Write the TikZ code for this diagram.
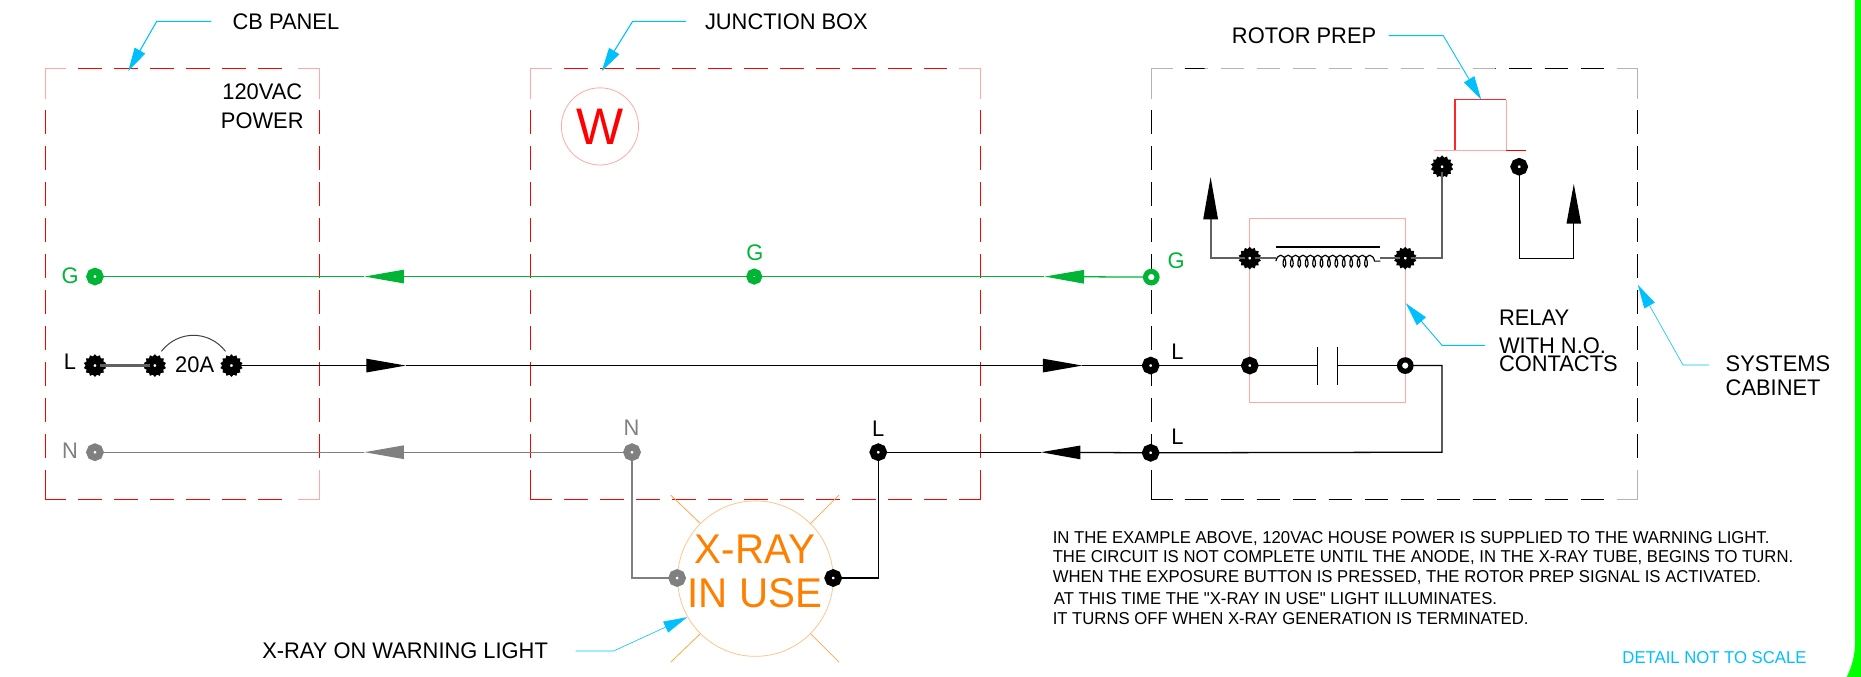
\documentclass[tikz,border=0pt]{standalone}
\usepackage{fontspec}
\setmainfont[FakeStretch=0.97]{Liberation Sans}
\newfontfamily\plainnote[FakeStretch=0.97]{Liberation Sans}
\usetikzlibrary{arrows.meta,shapes.geometric,decorations.pathmorphing}
\definecolor{cablue}{HTML}{00BFFF}
\definecolor{wgreen}{HTML}{00B535}
\definecolor{wgray}{HTML}{808080}
\definecolor{pinkline}{HTML}{FFA8A8}
\definecolor{softgray}{HTML}{B4B4B4}
\definecolor{lamporange}{HTML}{FF8000}
\definecolor{lamplight}{HTML}{FFC48C}
\definecolor{barGreen}{HTML}{00FF00}
\newcommand{\sidedash}[3]{\draw[line width=.55pt,draw=#1,dash pattern=on 12.1pt off 6.1pt] #2 -- #3;}
\newcommand{\panelbox}[8]{%
  \sidedash{#5}{(#1+28,#2)}{(#3-28,#2)}
  \sidedash{#5}{(#1+28,#4)}{(#3-28,#4)}
  \sidedash{#5}{(#1,#2+35)}{(#1,#4-35)}
  \sidedash{#5}{(#3,#2+35)}{(#3,#4-35)}
  \draw[line width=.55pt,draw=#6] (#1,#2+25) -- (#1,#2) -- (#1+18,#2);
  \draw[line width=.55pt,draw=#6] (#3,#2+25) -- (#3,#2) -- (#3-18,#2);
  \draw[line width=.55pt,draw=#7] (#1,#4-25) -- (#1,#4) -- (#1+18,#4);
  \draw[line width=.55pt,draw=#8] (#3,#4-25) -- (#3,#4) -- (#3-18,#4);
}
\newcommand{\spiky}[3]{%
  \node[starbase=#3] (#1s) at (#2) {};
  \node[term=#3] (#1) at (#2) {};
}
\tikzset{
  x=0.6pt,y=-0.6pt,
  every node/.style={inner sep=0pt,outer sep=0pt},
  txt/.style={font=\fontsize{11.4pt}{13pt}\selectfont,text depth=0pt,text=black},
  ltxt/.style={txt,anchor=west},
  note/.style={font=\fontsize{8.7pt}{10pt}\selectfont,text depth=0pt,anchor=west,text=black},
  term/.style={circle,draw=#1,fill=white,line width=3.5pt,minimum size=5.3pt},
  ring/.style={circle,draw=#1,fill=white,line width=2.6pt,minimum size=5.8pt},
  starbase/.style={star,star points=14,star point ratio=1.22,fill=#1,draw=none,minimum size=11.5pt},
  wire/.style={line width=.65pt,draw=#1},
  wire/.default=black,
  thickwire/.style={line width=1.1pt,draw=black!62},
  flow/.style={wire=#1,-{Triangle[length=20pt,width=6.8pt,fill=#1]}},
  leader/.style={line width=.55pt,draw=cablue},
  leadtip/.style={leader,-{Triangle[length=12pt,width=6pt,fill=cablue]}},
  thinlead/.style={leader,line width=.3pt},
  thintip/.style={thinlead,-{Triangle[length=12pt,width=6pt,fill=cablue]}},
  ray/.style={line width=.4pt,draw=lamporange!70},
}
\begin{document}
\begin{tikzpicture}
\useasboundingbox (0,0) rectangle (1568,570.3);
% green edge
\fill[barGreen] (1568,0) -- (1563,0) -- (1563,540) .. controls (1563,553) and (1560,562) .. (1556,570.3) -- (1568,570.3) -- cycle;
% panels
\panelbox{38}{58}{269}{421}{red}{pinkline}{red}{pinkline}
\panelbox{447}{58}{826}{421}{red}{pinkline}{red}{red}
\panelbox{970}{58}{1380}{421}{black}{softgray}{black}{softgray}
\begin{scope}
  \clip (1015,50) rectangle (1260,66);
  \fill[white] (1015,50) rectangle (1260,66);
  \sidedash{softgray}{(998,58)}{(1352,58)}
\end{scope}
% relay enclosure and warning light
\node[draw=pinkline,line width=.5pt,minimum width=78.6pt,minimum height=93pt] (relay) at (1118.5,261.5) {};
\node[circle,draw=lamplight,line width=.4pt,minimum size=78.6pt] (lamp) at (636.5,487.5) {};
\node[circle,draw=pinkline,line width=.4pt,minimum size=39pt,font=\fontsize{26pt}{28pt}\selectfont,text=red] (wbox) at (505.5,106.5) {W};
% rays
\coordinate (rayA1) at (590,441); \coordinate (rayA2) at (565,417);
\coordinate (rayB1) at (683,441); \coordinate (rayB2) at (707,417);
\coordinate (rayC1) at (590,534); \coordinate (rayC2) at (565,558);
\coordinate (rayD1) at (683,534); \coordinate (rayD2) at (707,558);
\draw[ray] (rayA1) -- (rayA2);
\draw[ray] (rayB1) -- (rayB2);
\draw[ray] (rayC1) -- (rayC2);
\draw[ray] (rayD1) -- (rayD2);
% terminals
\node[term=wgreen] (g1) at (80,233) {};
\node[term=wgreen,minimum size=4.5pt] (g2) at (635.5,233) {};
\node[ring=wgreen] (g3) at (970,233.5) {};
\spiky{l1}{80,308}{black}
\spiky{l2}{130.5,308}{black}
\spiky{l3}{195,308}{black}
\node[term=black] (l4) at (969.5,308) {};
\node[term=black] (c1) at (1053,308) {};
\node[ring=black] (c2) at (1184,308) {};
\node[term=wgray] (n1) at (80,381) {};
\node[term=wgray] (n2) at (532.5,381) {};
\node[term=black] (k1) at (740,381) {};
\node[term=black] (k2) at (969.5,381.5) {};
\node[term=wgray] (m1) at (570.5,487) {};
\node[term=black] (m2) at (702,487) {};
\spiky{r1}{1053,217.5}{black}
\spiky{r2}{1184,217.5}{black}
\spiky{p1}{1215,140.5}{black}
\node[term=black] (p2) at (1280,140.5) {};
% wire points
\coordinate (gt1) at (880,233); \coordinate (gt2) at (307,233);
\coordinate (lt1) at (342,308); \coordinate (lt2) at (912,308);
\coordinate (kt1) at (877,381); \coordinate (nt1) at (307,381);
\coordinate (elb) at (1215,381);
\coordinate (uA) at (1020,149); \coordinate (uB) at (1326,155);
\coordinate (elbA) at (1020,217.5); \coordinate (elbB) at (1280,217.5); \coordinate (elbC) at (1326,217.5);
\coordinate (elbP) at (1215,217.5);
\coordinate (coilL) at (1075,220); \coordinate (coilR) at (1163,220);
\coordinate (coilLa) at (1075,217.5); \coordinate (coilRa) at (1163,217.5);
\coordinate (barL) at (1075,208); \coordinate (barR) at (1163,208);
\coordinate (capLa) at (1110,292); \coordinate (capLb) at (1110,324);
\coordinate (capRa) at (1127,292); \coordinate (capRb) at (1127,324);
\coordinate (capL) at (1110,308); \coordinate (capR) at (1127,308);
\coordinate (fa) at (136,296); \coordinate (fb) at (190,296);
% green
\draw[flow=wgreen] (g3) -- (gt1);
\draw[wire=wgreen] (gt1) -- (g2);
\draw[flow=wgreen] (g2) -- (gt2);
\draw[wire=wgreen] (gt2) -- (g1);
% line
\draw[thickwire] (l1) -- (l2);
\draw[line width=.5pt,draw=black!75] (fa) .. controls (150,278) and (176,278) .. (fb);
\draw[flow=black] (l3) -- (lt1);
\draw[flow=black] (lt1) -- (lt2);
\draw[wire] (lt2) -- (l4);
\draw[wire] (l4) -- (c1);
\draw[wire] (c1) -- (capL);
\draw[wire] (capR) -- (c2);
\draw[wire=black,line width=.5pt] (capLa) -- (capLb);
\draw[wire=black,line width=.5pt] (capRa) -- (capRb);
\draw[wire] (c2) -| (elb) -- (k2);
\draw[flow=black] (k2) -- (kt1);
\draw[wire] (kt1) -- (k1);
\draw[wire] (k1) |- (m2);
% neutral
\draw[flow=wgray] (n2) -- (nt1);
\draw[wire=wgray] (nt1) -- (n1);
\draw[wire=wgray] (n2) |- (m1);
% relay coil and control
\draw[thickwire] (r1) -- (coilLa);
\draw[thickwire] (coilRa) -- (r2);
\draw[line width=.6pt,decorate,decoration={coil,aspect=.5,segment length=3.75pt,amplitude=3pt,pre length=0pt,post length=0pt}] (coilL) -- (coilR);
\draw[wire] (barL) -- (barR);
\draw[thickwire,-{Triangle[length=21.5pt,width=7.2pt,color=black,fill=black]}] (r1) -- (elbA) -- (uA);
\draw[thickwire] (r2) -- (elbP) -- (p1);
\draw[wire,-{Triangle[length=20pt,width=7.2pt,fill=black]}] (p2) -- (elbB) -- (elbC) -- (uB);
% rotor prep symbol
\coordinate (sa) at (1208,127); \coordinate (sb) at (1226,127); \coordinate (sc) at (1226,84);
\coordinate (sd) at (1269,84); \coordinate (se) at (1269,127); \coordinate (sf) at (1286,127);
\draw[line width=.7pt,draw=red!85] (sb) -- (sc) -- (sd);
\draw[line width=.6pt,draw=pinkline] (sd) -- (se) -- (sb) -- (sa);
\draw[line width=.5pt,draw=red] (se) -- (sf);
% leaders
\coordinate (la1) at (178,18); \coordinate (la2) at (132,18); \coordinate (la3) at (108,60);
\coordinate (lb1) at (578,18); \coordinate (lb2) at (533,18); \coordinate (lb3) at (507,60);
\coordinate (lc1) at (1170,30); \coordinate (lc2) at (1216,30); \coordinate (lc3) at (1248,84);
\coordinate (ld1) at (1251,291); \coordinate (ld2) at (1215,291); \coordinate (ld3) at (1184.5,255.5);
\coordinate (le1) at (1440,307.5); \coordinate (le2) at (1418,307.5); \coordinate (le3) at (1380,240);
\coordinate (lf1) at (485,548.5); \coordinate (lf2) at (517,548.5); \coordinate (lf3) at (579,520);
\draw[leadtip] (la1) -- (la2) -- (la3);
\draw[leadtip] (lb1) -- (lb2) -- (lb3);
\draw[leadtip,line width=.45pt] (lc1) -- (lc2) -- (lc3);
\draw[leadtip,line width=.45pt] (ld1) -- (ld2) -- (ld3);
\draw[thintip] (le1) -- (le2) -- (le3);
\draw[thintip] (lf1) -- (lf2) -- (lf3);
% labels
\node[ltxt] (tcb) at (196,18) {CB PANEL};
\node[ltxt] (tjb) at (594,18) {JUNCTION BOX};
\node[ltxt] (trp) at (1038,30) {ROTOR PREP};
\node[txt] (t120) at (221,77) {120VAC};
\node[txt] (tpow) at (221,102) {POWER};
\node[txt,text=wgreen] (tg1) at (59,232) {G};
\node[txt,text=wgreen] (tg2) at (636,213) {G};
\node[txt,text=wgreen] (tg3) at (991,220) {G};
\node[txt] (tl1) at (59,305) {L};
\node[txt] (tl2) at (992,296) {L};
\node[txt] (tl3) at (992,368) {L};
\node[txt] (tl4) at (740,361) {L};
\node[txt,text=wgray] (tn1) at (59,380) {N};
\node[txt,text=wgray] (tn2) at (532,360) {N};
\node[txt] (t20) at (164,307) {20A};
\node[ltxt] (trel) at (1263,268) {RELAY};
\node[ltxt] (twit) at (1263,291) {WITH N.O.};
\node[ltxt] (tcon) at (1263,306) {CONTACTS};
\node[ltxt] (tsys) at (1454,306) {SYSTEMS};
\node[ltxt] (tcab) at (1454,327) {CABINET};
\node[font=\fontsize{21pt}{23pt}\selectfont,text=lamporange,text depth=0pt] (tx1) at (636,463) {X-RAY};
\node[font=\fontsize{21pt}{23pt}\selectfont,text=lamporange,text depth=0pt] (tx2) at (636,500) {IN USE};
\node[ltxt] (txl) at (221,548) {X-RAY ON WARNING LIGHT};
\node[note] (n1t) at (887,453) {IN THE EXAMPLE ABOVE, 120VAC HOUSE POWER IS SUPPLIED TO THE WARNING LIGHT.};
\node[note] (n2t) at (887,469) {THE CIRCUIT IS NOT COMPLETE UNTIL THE ANODE, IN THE X-RAY TUBE, BEGINS TO TURN.};
\node[note] (n3t) at (887,485.5) {WHEN THE EXPOSURE BUTTON IS PRESSED, THE ROTOR PREP SIGNAL IS ACTIVATED.};
\node[note] (n4t) at (888,504) {\plainnote AT THIS TIME THE "X-RAY IN USE" LIGHT ILLUMINATES.};
\node[note] (n5t) at (887,521) {IT TURNS OFF WHEN X-RAY GENERATION IS TERMINATED.};
\node[note,text=cablue] (tdet) at (1367,554) {DETAIL NOT TO SCALE};
\end{tikzpicture}
\end{document}
